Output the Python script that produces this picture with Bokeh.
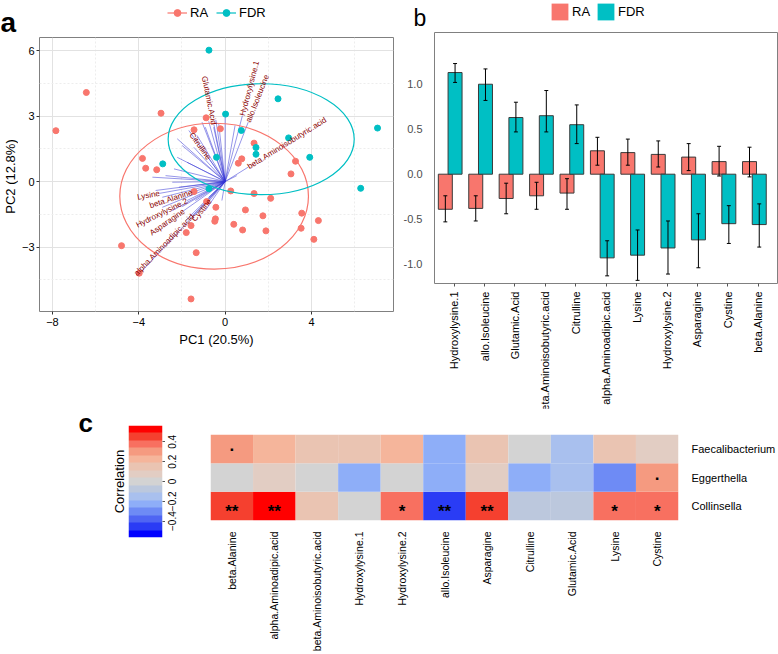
import math
import numpy as np
from bokeh.plotting import figure
from bokeh.layouts import row, column
from bokeh.models import (FixedTicker, Legend, LegendItem, Label, LinearColorMapper,
                          ColumnDataSource, Range1d, LinearAxis)
from bokeh.core.properties import value
from bokeh.embed import file_html
from bokeh.resources import INLINE

FONT = "Liberation Sans"
RA_COL = "#F8766D"
FDR_COL = "#00BFC4"

# ---------------- Panel a data (PCA biplot) ----------------
ra_x = [-7.84, -6.43, -2.97, -0.88, -1.44, -0.22, -3.83, -3.68, -3.17, 1.34, 0.77, 0.61, 3.26,
        3.05, 0.26, 1.34, 2.11, -1.44, -0.43, 0.94, 1.75, 3.55, 4.32, -0.45, -0.48, 0.40, 0.81,
        1.89, 3.52, 4.11, -1.58, -1.80, -1.34, -4.80, -3.98, -1.58, -0.86]
ra_y = [2.33, 4.08, 3.13, 2.92, 2.37, 2.42, 1.06, 0.61, 0.54, 1.76, 1.04, 0.84, 0.93,
        0.35, -0.43, -0.55, -0.77, -0.46, -1.18, -1.30, -1.57, -1.45, -1.79, -1.71, -1.82, -1.96, -2.22,
        -2.26, -2.14, -2.65, -2.02, -2.34, -3.26, -2.94, -4.20, -5.38, -0.92]
fdr_x = [-0.75, 0.02, 2.45, 0.75, 2.94, 1.43, 1.43, 3.92, -0.40, -2.89, -0.75, 6.28, 7.06]
fdr_y = [6.02, 3.09, 3.79, 2.34, 2.00, 1.56, 1.25, 1.11, 1.11, 0.81, -0.33, -0.31, 2.45]

ell_cx = [-0.51, 1.67]
ell_cy = [-0.67, 1.94]
ell_w = [8.74, 8.62]
ell_h = [6.68, 5.08]

arr_x = [0.0, -0.43, -0.76, -1.07, -0.92, -0.53, -0.30, 0.46, -1.68, -2.22, -1.99, -1.45, -2.22,
         -1.76, -2.37, -2.76, -2.45, -2.14, -3.22, -2.91, -2.91, -2.45, -1.99, -1.38, -1.84, -1.38,
         -0.92, -0.76, -3.98, 0.54, -0.15, -1.30, -3.37]
arr_y = [3.02, 2.82, 2.76, 2.72, 2.49, 2.49, 2.67, 2.57, 2.34, 1.96, 1.65, 1.57, 1.11,
         0.88, 0.58, 0.27, -0.03, -0.26, -0.41, -0.72, -1.18, -1.33, -1.15, -0.87, -1.79, -1.53,
         -1.33, -0.72, -4.23, 0.27, -0.87, 2.11, 0.20]
var_names = ["Glutamic.Acid", "Hydroxylysine.1", "allo.Isoleucine", "Citrulline",
             "beta.Aminoisobutyric.acid", "Lysine", "beta.Alanine", "Hydroxylysine.2",
             "Asparagine", "alpha.Aminoadipic.acid", "Cystine"]
var_x = [-0.52, 0.80, 1.07, -0.74, 1.07, -3.03, -1.53, -1.76, -1.91, -1.50, -0.69]
var_y = [2.61, 3.02, 2.72, 1.04, 0.66, -0.54, -0.49, -0.87, -1.33, -1.55, -0.84]

# ---------------- Panel b data (bar chart) ----------------
cats_b = ["Hydroxylysine.1", "allo.Isoleucine", "Glutamic.Acid", "beta.Aminoisobutyric.acid",
          "Citrulline", "alpha.Aminoadipic.acid", "Lysine", "Hydroxylysine.2", "Asparagine",
          "Cystine", "beta.Alanine"]
ra_mean = [-0.39, -0.38, -0.27, -0.24, -0.21, 0.26, 0.24, 0.22, 0.19, 0.14, 0.14]
ra_lo = [-0.53, -0.52, -0.44, -0.39, -0.39, 0.10, 0.10, 0.08, 0.04, -0.02, -0.03]
ra_hi = [-0.24, -0.24, -0.10, -0.09, -0.05, 0.41, 0.39, 0.37, 0.34, 0.31, 0.30]
fdr_mean = [1.13, 1.00, 0.63, 0.65, 0.55, -0.93, -0.90, -0.82, -0.73, -0.55, -0.56]
fdr_lo = [1.02, 0.82, 0.47, 0.47, 0.34, -1.13, -1.18, -1.11, -1.04, -0.77, -0.81]
fdr_hi = [1.23, 1.17, 0.80, 0.93, 0.77, -0.74, -0.62, -0.52, -0.44, -0.35, -0.33]

# ---------------- Panel c data (correlation heatmap) ----------------
cols_c = ["beta.Alanine", "alpha.Aminoadipic.acid", "beta.Aminoisobutyric.acid", "Hydroxylysine.1",
          "Hydroxylysine.2", "allo.Isoleucine", "Asparagine", "Citrulline", "Glutamic.Acid",
          "Lysine", "Cystine"]
rows_c = ["Collinsella", "Eggerthella", "Faecalibacterium"]
corr_collinsella = [0.45, 0.55, 0.12, 0.0, 0.38, -0.45, 0.46, -0.08, -0.08, 0.38, 0.38]
corr_eggerthella = [0.0, 0.10, 0.0, -0.23, 0.0, -0.23, 0.10, -0.23, -0.15, -0.30, 0.30]
corr_faecalibacterium = [0.30, 0.23, 0.14, 0.14, 0.23, -0.23, 0.16, 0.0, -0.15, 0.15, 0.08]
sig_collinsella = ["**", "**", "", "", "*", "**", "**", "", "", "*", "*"]
sig_eggerthella = ["", "", "", "", "", "", "", "", "", "", "."]
sig_faecalibacterium = [".", "", "", "", "", "", "", "", "", "", ""]
cb_ticks = [-0.4, -0.2, 0, 0.2, 0.4]
cb_tick_labels = ["\u22120.4", "\u22120.2", "0", "0.2", "0.4"]

PALETTE = ["#0000FF", "#2A3CF5", "#4F65F3", "#6E8BF5", "#8EAEF8", "#A9C0EE", "#BCC8DD",
           "#D3D3D3", "#E2CDC3", "#EAC4B2", "#F5B59B", "#F59A80", "#F87060", "#F5402F", "#FF0000"]
CLIM = 0.565
UP = math.pi / 2  # text reading bottom-to-top


def base_fig(**kw):
    return figure(output_backend="svg", toolbar_location=None, background_fill_color="white",
                  border_fill_color="white", **kw)


def blank_fig(width, height, x_range=None, y_range=None):
    f = base_fig(width=width, height=height, x_range=x_range or Range1d(0, 1),
                 y_range=y_range or Range1d(0, 1),
                 x_axis_location=None, y_axis_location=None, min_border=0)
    f.outline_line_color = None
    f.grid.visible = False
    return f


def wrap(f):
    return column(f)


# ======================= Panel a =======================
head_a = blank_fig(400, 37)
ra_line_k = head_a.line(x=ra_x, y=ra_y, line_color=RA_COL, line_width=1.2, visible=False)
ra_pt_k = head_a.scatter(x=ra_x, y=ra_y, size=6, fill_color=RA_COL, line_color=RA_COL, visible=False)
fdr_line_k = head_a.line(x=fdr_x, y=fdr_y, line_color=FDR_COL, line_width=1.2, visible=False)
fdr_pt_k = head_a.scatter(x=fdr_x, y=fdr_y, size=6, fill_color=FDR_COL, line_color=FDR_COL,
                          visible=False)
head_a.add_layout(Legend(items=[LegendItem(label="RA", renderers=[ra_line_k, ra_pt_k]),
                                LegendItem(label="FDR", renderers=[fdr_line_k, fdr_pt_k])],
                         orientation="horizontal", location=(167, 16), glyph_width=20,
                         glyph_height=17, label_standoff=3, spacing=6, padding=0, margin=0,
                         border_line_color=None, background_fill_alpha=0, label_text_font=FONT,
                         label_text_font_size="13px", label_text_color="black", label_height=17,
                         inactive_fill_alpha=0))
head_a.add_layout(Label(x=0, y=0, x_units="screen", y_units="screen", text="a",
                        text_baseline="bottom", text_font=FONT, text_font_size="28px",
                        text_font_style="bold", text_color="black"))

ylab_a = blank_fig(18, 383)
ylab_a.add_layout(Label(x=9.5, y=244, x_units="screen", y_units="screen", text="PC2 (12.8%)",
                        angle=UP, text_align="center", text_baseline="middle",
                        text_font=FONT, text_font_size="13px", text_color="black"))

pa = base_fig(width=382, height=383, x_range=Range1d(-8.6, 7.8), y_range=Range1d(-5.955, 6.6),
              min_border_left=19, min_border_right=7, min_border_top=0, min_border_bottom=109)
pa.outline_line_color = "#808080"
pa.xaxis.ticker = FixedTicker(ticks=[-8, -4, 0, 4], minor_ticks=[-6, -2, 2, 6])
pa.yaxis.ticker = FixedTicker(ticks=[-3, 0, 3, 6], minor_ticks=[-4.5, -1.5, 1.5, 4.5])
pa.xaxis.major_label_overrides = {-8: "\u22128", -4: "\u22124", 0: "0", 4: "4"}
pa.yaxis.major_label_overrides = {-3: "\u22123", 0: "0", 3: "3", 6: "6"}
pa.xaxis.axis_label = "PC1 (20.5%)"
for ax in (pa.xaxis[0], pa.yaxis[0]):
    ax.axis_line_color = None
    ax.major_tick_line_color = "#333333"
    ax.major_tick_out = 3
    ax.major_tick_in = 0
    ax.minor_tick_line_color = None
    ax.major_label_text_font = FONT
    ax.major_label_text_font_size = "11px"
    ax.major_label_text_color = "black"
    ax.major_label_standoff = 2
    ax.axis_label_text_font = FONT
    ax.axis_label_text_font_size = "13px"
    ax.axis_label_text_font_style = "normal"
    ax.axis_label_text_color = "black"
    ax.axis_label_standoff = 3
pa.yaxis.major_label_standoff = 1
for g in (pa.xgrid[0], pa.ygrid[0]):
    g.grid_line_color = "#E2E2E2"
    g.minor_grid_line_color = "#EDEDED"
    g.minor_grid_line_dash = "2 2"

pa.segment(x0=0, y0=0, x1=arr_x, y1=arr_y, line_color="#3535D5", line_alpha=0.65, line_width=0.8)
pa.segment(x0=0, y0=0, x1=var_x, y1=var_y, line_color="#3535D5", line_alpha=0.65, line_width=0.8)
pa.scatter(ra_x, ra_y, size=6, fill_color=RA_COL, line_color=RA_COL)
pa.scatter(fdr_x, fdr_y, size=6, fill_color=FDR_COL, line_color=FDR_COL)
pa.ellipse(x=ell_cx, y=ell_cy, width=ell_w, height=ell_h, fill_color=None,
           line_color=[RA_COL, FDR_COL], line_width=1.2)
lab_src = ColumnDataSource(dict(
    x=var_x, y=var_y, text=var_names,
    angle=[math.atan(vy / vx) for vx, vy in zip(var_x, var_y)],
    align=["right" if vx < 0 else "left" for vx in var_x]))
pa.text(x="x", y="y", text="text", angle="angle", text_align="align", source=lab_src,
        text_baseline="middle", text_color="#8B0000", text_font=value(FONT), text_font_size="8px")

# ======================= Panel b =======================
idx = list(range(1, len(cats_b) + 1))
head_b = blank_fig(378, 32)
ra_key = head_b.vbar(x=idx, top=ra_mean, width=0.5, fill_color=RA_COL, line_color=None,
                     visible=False)
fdr_key = head_b.vbar(x=idx, top=fdr_mean, width=0.5, fill_color=FDR_COL, line_color=None,
                      visible=False)
head_b.add_layout(Legend(items=[LegendItem(label="RA", renderers=[ra_key]),
                                LegendItem(label="FDR", renderers=[fdr_key])],
                         orientation="horizontal", location=(149, 10), glyph_width=21,
                         glyph_height=21, label_standoff=2, spacing=3, padding=0, margin=0,
                         border_line_color=None, background_fill_alpha=0, label_text_font=FONT,
                         label_text_font_size="13px", label_text_color="black", label_height=21,
                         inactive_fill_alpha=0))
head_b.add_layout(Label(x=13, y=2, x_units="screen", y_units="screen", text="b",
                        text_baseline="bottom", text_font=FONT, text_font_size="23px",
                        text_color="black"))

pb = base_fig(width=378, height=388, x_range=Range1d(0.354, 11.63), y_range=Range1d(-1.215, 1.575),
              min_border_left=33, min_border_right=1, min_border_top=0, min_border_bottom=137)
pb.outline_line_color = "#808080"
pb.grid.visible = False
ra_pos = [i - 0.29 for i in idx]
fdr_pos = [i + 0.03 for i in idx]
bw = 0.46
cap = 0.065
pb.vbar(x=ra_pos, top=ra_mean, bottom=0, width=bw, fill_color=RA_COL,
        line_color="#3A3A3A", line_width=1)
pb.vbar(x=fdr_pos, top=fdr_mean, bottom=0, width=bw, fill_color=FDR_COL,
        line_color="#3A3A3A", line_width=1)
for pos, lo, hi in ((ra_pos, ra_lo, ra_hi), (fdr_pos, fdr_lo, fdr_hi)):
    pb.segment(x0=pos, y0=lo, x1=pos, y1=hi, line_color="black", line_width=1)
    pb.segment(x0=[p - cap for p in pos], y0=lo, x1=[p + cap for p in pos], y1=lo,
               line_color="black", line_width=1)
    pb.segment(x0=[p - cap for p in pos], y0=hi, x1=[p + cap for p in pos], y1=hi,
               line_color="black", line_width=1)
pb.yaxis.ticker = FixedTicker(ticks=[-1, -0.5, 0, 0.5, 1])
pb.yaxis.major_label_overrides = {-1: "-1.0", -0.5: "-0.5", 0: "0.0", 0.5: "0.5", 1: "1.0"}
pb.xaxis.ticker = FixedTicker(ticks=idx)
pb.xaxis.major_label_overrides = {i: c for i, c in zip(idx, cats_b)}
pb.xaxis.major_label_orientation = UP
for ax in (pb.xaxis[0], pb.yaxis[0]):
    ax.axis_line_color = None
    ax.minor_tick_line_color = None
    ax.major_label_text_font = FONT
    ax.major_label_text_font_size = "11px"
pb.yaxis.major_tick_line_color = None
pb.yaxis.major_label_text_color = "#4D4D4D"
pb.yaxis.major_label_standoff = 6
pb.xaxis.major_tick_line_color = "#555555"
pb.xaxis.major_tick_out = 3
pb.xaxis.major_tick_in = 0
pb.xaxis.major_label_text_color = "black"
pb.xaxis.major_label_standoff = 5

# ======================= Panel c =======================
mapper = LinearColorMapper(palette=PALETTE, low=-CLIM, high=CLIM)
ROW_H = 246
CB_TOP, CB_BOTTOM = 17, 117          # borders around the colour bar (px)
CB_FRAME = ROW_H - CB_TOP - CB_BOTTOM

c_fig = blank_fig(100, ROW_H)
c_fig.add_layout(Label(x=78, y=217, x_units="screen", y_units="screen", text="c",
                       text_baseline="bottom", text_font=FONT, text_font_size="26px",
                       text_font_style="bold", text_color="black"))

pcb = base_fig(width=65, height=ROW_H, x_range=Range1d(0, 1), y_range=Range1d(-CLIM, CLIM),
               x_axis_location=None, y_axis_location=None,
               min_border_left=28, min_border_right=3, min_border_top=CB_TOP,
               min_border_bottom=CB_BOTTOM)
pcb.outline_line_color = None
pcb.grid.visible = False
cb_vals = np.linspace(-CLIM, CLIM, 300).reshape(-1, 1)
pcb.image(image=[cb_vals], x=0, y=-CLIM, dw=1, dh=2 * CLIM, color_mapper=mapper)
cb_axis = LinearAxis(ticker=FixedTicker(ticks=cb_ticks),
                     major_label_overrides={t: "" for t in cb_ticks},
                     axis_line_color=None, major_tick_line_color="#555555", major_tick_out=3,
                     major_tick_in=0, minor_tick_line_color=None, major_label_standoff=0,
                     major_label_text_font_size="1px")
pcb.add_layout(cb_axis, "right")
cb_title = LinearAxis(ticker=FixedTicker(ticks=[]), axis_label="Correlation",
                      axis_line_color=None, major_tick_line_color=None, minor_tick_line_color=None,
                      axis_label_text_font=FONT, axis_label_text_font_size="13px",
                      axis_label_text_font_style="normal", axis_label_standoff=2,
                      axis_label_text_color="black")
pcb.add_layout(cb_title, "left")

# tick labels of the colour bar (same vertical scale as the bar)
per_px = 2 * CLIM / CB_FRAME
cb_lab = blank_fig(45, ROW_H, x_range=Range1d(0, 45),
                   y_range=Range1d(-CLIM - CB_BOTTOM * per_px, CLIM + CB_TOP * per_px))
cb_lab.text(x=[6.5] * len(cb_ticks), y=cb_ticks, text=cb_tick_labels, angle=UP,
            text_align="center", text_baseline="middle", text_font=value(FONT),
            text_font_size="10px", text_color="black")

ph = base_fig(width=568, height=ROW_H, x_range=Range1d(0, len(cols_c)), y_range=Range1d(0, 3),
              x_axis_location="below", y_axis_location="right",
              min_border_left=0, min_border_right=95, min_border_top=26, min_border_bottom=132)
ph.outline_line_color = None
ph.grid.visible = False
hx, hy, hv = [], [], []
sx, sy, st = [], [], []
dx, dy, dt = [], [], []
for r, (vals, sigs) in enumerate(((corr_collinsella, sig_collinsella),
                                  (corr_eggerthella, sig_eggerthella),
                                  (corr_faecalibacterium, sig_faecalibacterium))):
    for c, (v, s) in enumerate(zip(vals, sigs)):
        hx.append(c + 0.5)
        hy.append(r + 0.5)
        hv.append(v)
        if s == ".":
            dx.append(c + 0.5); dy.append(r + 0.5); dt.append(s)
        elif s:
            sx.append(c + 0.5); sy.append(r + 0.5); st.append(s)
ph.rect(x="x", y="y", width=1, height=1,
        fill_color={"field": "v", "transform": mapper}, line_color=None,
        source=ColumnDataSource(dict(x=hx, y=hy, v=hv)))
ph.text(x=sx, y=sy, text=st, text_align="center", text_baseline="alphabetic", y_offset=5,
        text_font=value(FONT), text_font_size="17px", text_font_style="bold", text_color="black")
ph.text(x=dx, y=dy, text=dt, text_align="center", text_baseline="alphabetic", y_offset=-4,
        text_font=value(FONT), text_font_size="17px", text_font_style="bold", text_color="black")
ph.xaxis.ticker = FixedTicker(ticks=[c + 0.5 for c in range(len(cols_c))])
ph.xaxis.major_label_overrides = {c + 0.5: n for c, n in enumerate(cols_c)}
ph.xaxis.major_label_orientation = UP
ph.yaxis.ticker = FixedTicker(ticks=[0.5, 1.5, 2.5])
ph.yaxis.major_label_overrides = {r + 0.5: n for r, n in enumerate(rows_c)}
for ax in (ph.xaxis[0], ph.yaxis[0]):
    ax.axis_line_color = None
    ax.major_tick_line_color = None
    ax.minor_tick_line_color = None
    ax.major_label_text_font = FONT
    ax.major_label_text_color = "black"
ph.xaxis.major_label_text_font_size = "10.5px"
ph.xaxis.major_label_standoff = 5
ph.yaxis.major_label_text_font_size = "11px"
ph.yaxis.major_label_standoff = 7

col_a = column(wrap(head_a), row(wrap(ylab_a), wrap(pa)))
col_b = column(wrap(head_b), wrap(pb))
top = row(col_a, col_b)
bottom = row(wrap(c_fig), wrap(pcb), wrap(cb_lab), wrap(ph))
bottom.styles = {"margin-top": "-12px"}
layout = column(top, bottom)

open("out.html", "w").write(file_html(layout, INLINE))
